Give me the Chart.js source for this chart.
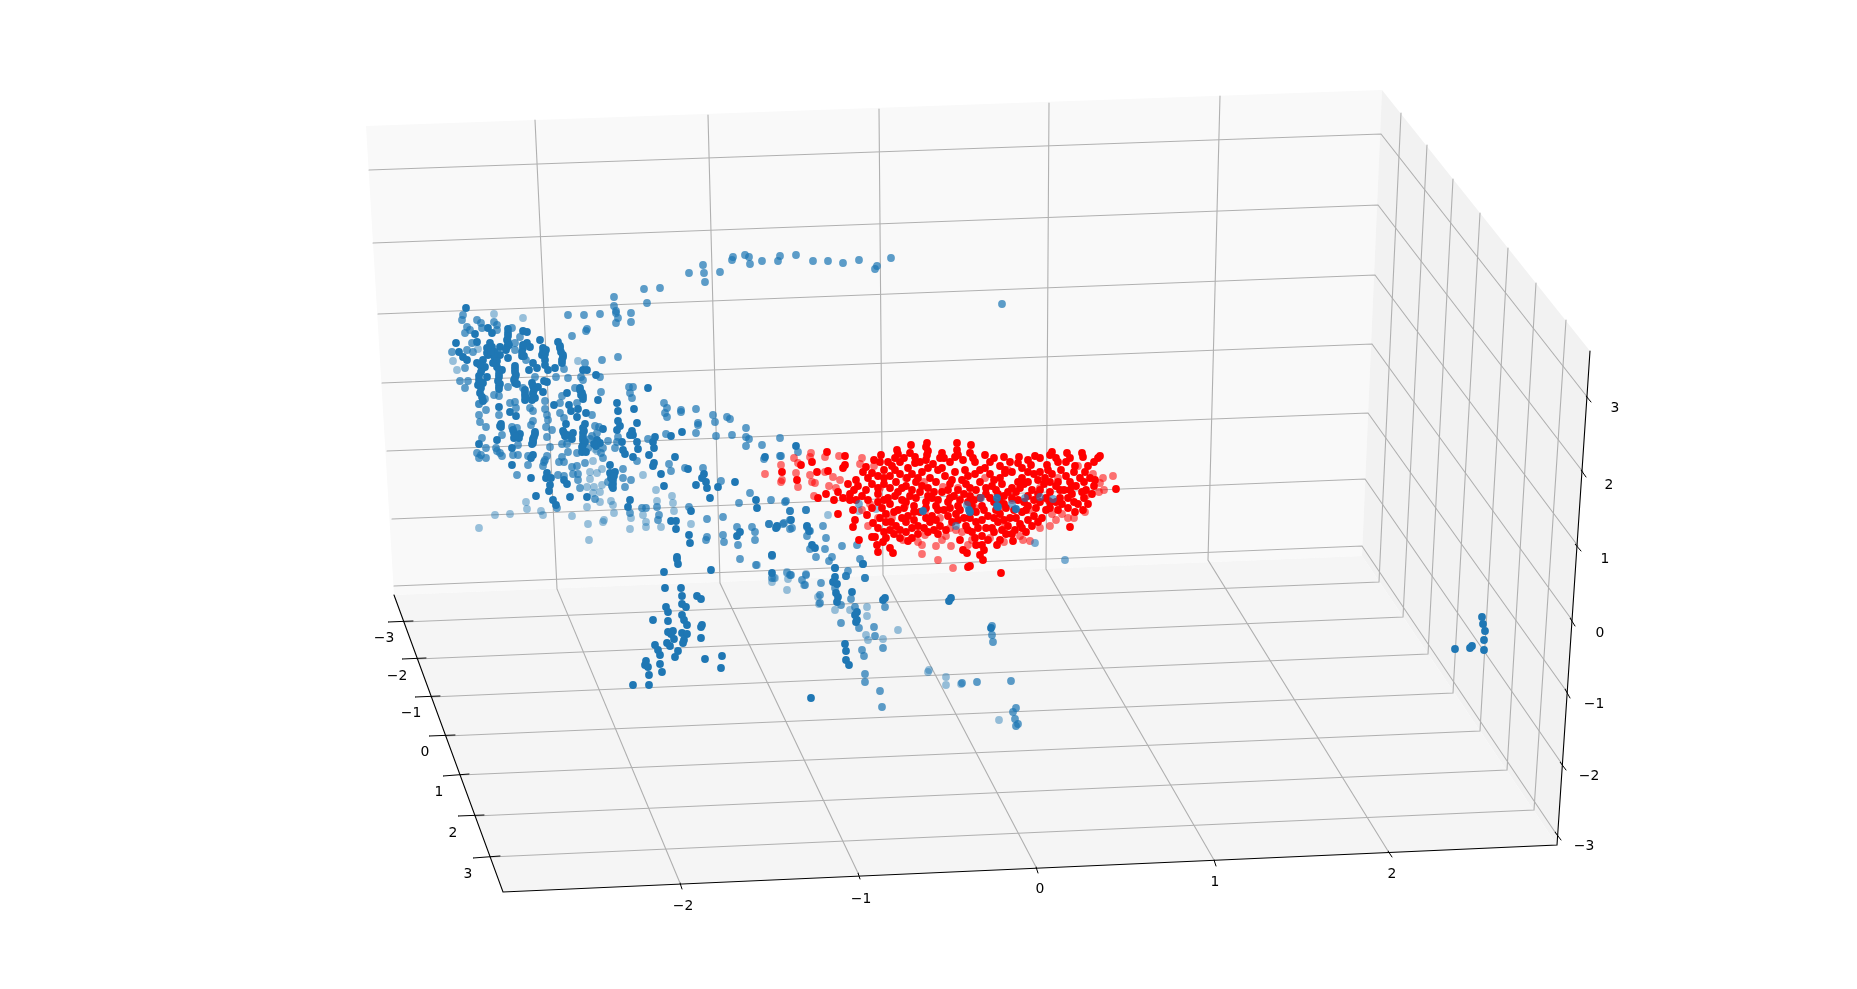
<!DOCTYPE html>
<html lang="en">
<head>
  <meta charset="UTF-8">
  <title>3D scatter</title>
  <script src="https://cdn.jsdelivr.net/npm/chart.js"></script>
  <style>
    html, body { margin: 0; padding: 0; background: #fff; }
    #box { width: 1857px; height: 989px; }
  </style>
</head>
<body>
  <div id="box"><canvas id="scatter3d"></canvas></div>

  <script>
    const backWall = [[366,126],[1382,90],[1362,556],[394,595]];
    const sideWall = [[1382,90],[1590,351],[1557,845],[1362,556]];
    const floorPane = [[394,595],[1362,556],[1557,845],[503,892]];

    // x grid: wall top, wall bottom, front edge
    const xGrid = [
      [[535,120],[557,589],[680,883]],
      [[708,115],[720,583],[858,873]],
      [[879,109],[883,575],[1036,867]],
      [[1049,103],[1046,569],[1214,860]],
      [[1220,96],[1208,560],[1388,851]]
    ];
    // y grid: left edge, wall corner, wall top
    const yGrid = [
      [[404,622],[1379,582],[1401,113]],
      [[417,659],[1403,617],[1427,145]],
      [[431,697],[1428,654],[1453,179]],
      [[446,736],[1453,693],[1480,213]],
      [[460,775],[1480,731],[1508,248]],
      [[475,816],[1507,770],[1536,283]],
      [[490,857],[1534,810],[1566,320]]
    ];
    // z grid: back wall left, corner, side wall right
    const zGrid = [
      [[369,170],[1381,134],[1588,398]],
      [[373,243],[1378,205],[1583,472]],
      [[378,314],[1375,275],[1578,546]],
      [[382,383],[1372,344],[1572,620]],
      [[387,451],[1368,413],[1567,692]],
      [[392,519],[1365,479],[1562,764]],
      [[394,586],[1362,546],[1557,835]]
    ];
    const axisEdges = [[[394,595],[503,892],[1557,845],[1590,351]]];

    const xTickMarks = [[[680,883],[682,889]],[[858,873],[860,879]],[[1036,867],[1038,873]],[[1214,860],[1216,866]],[[1388,851],[1392,857]]];
    const yTickMarks = [[[388,622],[413,621]],[[402,659],[426,658]],[[415,697],[440,696]],[[429,736],[455,735]],[[443,776],[469,774]],[[458,816],[484,815]],[[473,858],[500,856]]];
    const zTickMarks = [[[1586,396],[1591,402]],[[1581,470],[1586,477]],[[1575,544],[1581,551]],[[1570,618],[1575,626]],[[1565,689],[1570,698]],[[1560,762],[1566,770]],[[1555,832],[1561,840]]];

    const xTickLabels = ['\u22122','\u22121','0','1','2'];
    const xLabelAt = [[683,906],[861,899],[1040,889],[1215,882],[1392,874]];
    const yTickLabels = ['\u22123','\u22122','\u22121','0','1','2','3'];
    const yLabelAt = [[384,638],[397,676],[411,713],[425,752],[439,792],[453,833],[468,874]];
    const zTickLabels = ['3','2','1','0','\u22121','\u22122','\u22123'];
    const zLabelAt = [[1615,408],[1609,485],[1605,559],[1600,633],[1594,704],[1589,776],[1584,846]];

    const blueNear = [
      [466,308],[475,334],[488,328],[492,333],[508,329],[508,333],[523,331],[527,332],[558,342],[540,340],[477,342],[456,343],[490,343],[508,342],[527,343],
      [459,352],[487,348],[492,347],[500,347],[507,347],[523,348],[530,347],[543,348],[560,348],[463,357],[467,360],[477,363],[483,360],[488,355],[495,358],[500,355],[508,358],[522,356],[533,363],[542,355],[545,360],[563,357],[562,363],
      [482,369],[485,367],[497,367],[502,370],[515,369],[529,370],[537,368],[545,365],[548,370],[555,368],[583,370],[587,370],[596,375],[479,380],[487,377],[499,377],[515,378],[547,382],
      [478,385],[483,383],[499,386],[515,383],[532,383],[538,387],[544,381],[648,388],[580,388],[567,393],[582,393],[480,393],[482,397],[525,393],[533,393],[543,392],[525,400],[535,398],[583,399],[598,400],
      [483,401],[554,405],[569,405],[617,403],[499,407],[571,411],[578,409],[634,409],[618,411],[510,412],[586,413],[516,416],[577,417],[637,423],[618,421],[620,426],[501,424],[566,424],[585,424],[603,429],[617,430],[632,431],[682,432],[500,426],
      [514,433],[520,434],[535,434],[564,433],[567,435],[573,433],[583,433],[630,435],[633,435],[655,437],[671,436],[497,440],[514,438],[519,438],[533,439],[572,439],[583,440],[597,443],[622,442],[637,442],[653,442],[479,444],[533,443],[583,445],[600,443],[796,446],
      [512,448],[623,450],[638,449],[654,448],[533,455],[531,458],[582,452],[586,452],[625,454],[633,457],[649,455],[675,457],[765,457],[654,463],[512,465],[610,465],[653,466],[688,469],
      [531,478],[547,473],[546,478],[551,478],[610,473],[615,472],[661,474],[704,474],[564,480],[567,484],[550,485],[613,480],[702,478],[706,482],[735,482],[718,487],[696,485],[664,486],[613,488],[707,488],
      [549,491],[536,496],[570,497],[587,497],[710,498],[553,500],[630,500],[756,500],[556,505],[628,507],[691,511],[757,508],[671,521],[676,521],[676,529],[777,526],[776,528],[791,520],[807,526],[689,535],[737,536],[809,531],[690,543],[740,532],[812,545],[815,548],
      [677,557],[678,564],[677,559],[664,572],[711,570],[665,588],[681,588],[682,596],[697,596],[701,599],[682,604],[686,607],[666,607],[668,612],[653,620],[668,621],[682,615],[684,620],[687,625],[702,625],[701,627],[668,632],[673,631],[671,634],[674,639],[682,633],[687,634],[701,638],[684,640],[683,643],[655,645],[667,643],[670,646],[658,650],[660,655],[678,651],[675,657],[705,659],[722,656],[721,668],[646,661],[645,665],[648,667],[660,664],[662,672],[649,675],[633,685],[649,685],[811,698],
      [772,573],[835,568],[835,577],[863,564],[833,582],[837,584],[836,593],[838,597],[837,602],[852,592],[857,612],[855,615],[857,620],[856,622],[885,598],[883,600],[845,644],[846,651],[846,660],[849,665],[951,598],[949,601],[991,628],[772,555],
      [515,366],[515,372],[516,375],[514,380],[517,384],[499,370],[499,374],[498,381],[500,384],[499,389],[480,365],[481,372],[479,376],[480,382],[481,388],[495,352],[494,356],[497,361],[493,363],[488,350],[487,353],[491,352],[508,336],[507,340],[509,345],[506,350],[523,345],[522,352],[524,356],[545,354],[543,352],[546,350],[561,352],[563,355],[560,346],[562,360],[533,386],[534,390],[533,395],[532,400],[525,390],[525,396],[526,398],[580,390],[581,395],[583,396],[535,432],[534,437],[533,441],[532,444],[583,428],[584,431],[583,437],[585,442],[582,447],[501,427],[513,430],[515,436],[563,431],[565,436],[597,440],[596,446],[594,444],[613,484],[612,486],[611,478],[614,476],
      [1482,617],[1483,624],[1485,631],[1484,640],[1484,650],[1472,646],[1470,648],[1455,649]
    ];
    const blueMid = [
      [463,315],[462,320],[477,320],[481,323],[482,328],[497,325],[494,322],[497,330],[467,327],[470,330],[465,333],[512,328],[520,337],[472,343],[515,343],[452,352],[467,350],[473,352],[515,350],[526,360],[585,363],[602,360],[618,357],
      [465,368],[564,369],[535,377],[556,377],[568,378],[581,377],[600,377],[583,380],[460,381],[468,381],[465,388],[508,387],[523,388],[629,387],[633,387],[575,388],[601,392],[630,393],[485,399],[494,395],[499,396],[545,401],[562,396],[632,398],
      [479,404],[510,403],[515,402],[530,408],[560,403],[577,403],[664,403],[516,408],[533,411],[545,409],[667,408],[681,410],[696,409],[486,410],[560,413],[479,415],[499,415],[547,415],[564,418],[592,415],[665,413],[667,417],[681,412],[713,415],[727,417],[730,419],[715,422],[533,421],[480,422],[698,423],
      [531,425],[548,420],[595,426],[486,427],[512,427],[517,428],[546,427],[552,430],[599,427],[698,425],[746,428],[502,435],[592,436],[597,433],[618,437],[666,434],[696,433],[716,436],[732,435],[746,437],[780,438],[482,438],[547,437],[567,438],[590,439],[608,441],[617,442],[648,439],[749,439],[562,444],[567,444],[762,445],[746,446],
      [486,448],[496,448],[518,445],[550,447],[588,448],[603,448],[615,448],[477,453],[481,455],[497,451],[500,453],[513,455],[518,455],[528,456],[547,456],[562,457],[568,452],[577,453],[601,453],[780,456],[764,459],[798,452],[781,456],[479,458],[486,458],[502,456],[544,462],[545,460],[559,462],[564,462],[603,458],[637,461],[669,464],
      [528,465],[543,466],[572,467],[577,466],[585,463],[623,469],[685,468],[703,468],[517,475],[558,475],[564,476],[573,474],[578,474],[671,471],[578,480],[608,482],[623,478],[631,480],[721,481],[580,488],[625,487],[750,493],[595,499],[739,503],[771,500],[785,502],
      [557,508],[642,508],[646,508],[657,507],[689,507],[790,511],[806,510],[630,513],[659,515],[723,517],[658,520],[707,519],[737,527],[752,527],[755,532],[769,524],[783,524],[792,528],[807,536],[707,537],[723,535],[706,540],[724,542],[738,545],[755,540],[786,501],[790,511],[806,510],[769,524],[777,527],[784,523],[790,520],[790,529],[807,527],[810,531],[823,526],[826,538],[810,549],[825,549],[816,557],[842,546],[857,545],[832,557],[829,561],[835,568],[860,559],[863,564],[848,571],[846,576],[865,578],[790,575],
      [772,578],[791,575],[806,575],[802,580],[805,585],[821,583],[820,595],[820,603],[846,576],[865,578],[835,588],[841,605],[851,599],[855,607],[841,623],[859,628],[885,607],[874,627],[875,636],[883,648],[862,650],[864,656],[865,674],[865,682],[880,691],[882,707],[992,626],[992,635],[993,642],[962,683],[977,682],[1011,681],[1016,708],[1013,712],[1015,719],[1018,724],[1016,726],[740,559],[756,565],[772,556],
      [891,258],[877,266],[875,269],[859,260],[843,263],[828,261],[813,261],[796,255],[780,256],[778,261],[762,261],[750,264],[749,257],[745,255],[733,257],[732,260],[720,272],[703,265],[704,273],[705,282],[689,273],[660,288],[644,289],[614,297],[647,303],[614,306],[616,311],[616,313],[618,318],[616,323],[631,313],[631,322],[600,314],[584,315],[568,315],[587,329],[586,331],[572,336],
      [1002,304]
    ];
    const blueFar = [
      [494,314],[523,318],[478,349],[453,361],[578,361],[457,370],[479,404],[526,502],[527,509],[495,515],[510,514],[541,511],[543,515],[572,516],[614,513],[643,515],[479,528],[588,524],[604,520],[603,522],[646,522],[646,527],[630,529],[661,527],[691,524],[631,518],[589,540],[673,503],[674,511],[672,496],[657,501],[656,490],
      [595,449],[593,461],[597,451],[590,472],[602,469],[597,473],[590,479],[587,487],[594,487],[602,485],[593,493],[600,492],[600,502],[611,501],[613,505],[587,507],[643,475],[898,630],[867,607],[850,610],[835,610],[867,616],[866,635],[868,640],[883,639],[929,670],[928,672],[946,677],[946,685],[961,684],[999,720],
      [787,572],[774,578],[772,582],[788,579],[787,590],[757,565],[787,573],[775,578],[804,585],[818,597],[819,604],[772,555],[806,574],[828,515],[859,511],[876,509]
    ];

    const redNear = [
      [782,472],[801,465],[797,480],[812,462],[817,472],[827,452],[828,471],[845,456],[845,465],[843,468],[818,498],
      [881,455],[880,462],[897,450],[898,454],[895,458],[911,445],[910,453],[915,457],[927,443],[926,447],[928,451],[927,455],[942,453],[940,458],[957,443],[957,450],[955,457],[971,445],[970,453],[985,455],[990,462],[1004,457],[1019,457],[1035,456],[1052,452],[1050,455],[1067,453],[1082,453],[1083,457],[1100,456],[1098,458],[1116,489],
      [1001,573],[970,566],[968,567],[983,560],[980,555],[967,553],[963,550],[890,548],[893,553],[878,552],[877,545],[872,537],[859,540],[875,537],[908,541],[997,545],[1013,541],[1070,527],[1075,512],[1088,504],[1083,510],[838,514],[855,520],[853,527],[850,500],[853,510],[867,515],[873,523],
      [866,467],[872,473],[884,470],[892,466],[900,462],[908,468],[920,462],[933,464],[938,470],[950,462],[963,460],[975,462],[985,468],[1000,466],[1010,462],[1022,468],[1031,465],[1047,465],[1058,462],[1066,462],[1075,466],[1088,466],[1085,472],[1061,470],[1040,472],
      [856,480],[868,478],[878,476],[890,476],[900,474],[912,474],[922,472],[930,478],[945,476],[955,472],[965,470],[975,474],[990,474],[1000,478],[1012,472],[1022,478],[1034,474],[1045,478],[1052,474],[1066,476],[1074,472],[1080,478],[1090,478],[1070,482],
      [848,484],[858,486],[872,484],[884,484],[896,482],[906,486],[916,482],[928,488],[936,482],[950,484],[962,480],[970,488],[980,482],[992,486],[1002,484],[1012,488],[1024,484],[1032,490],[1044,484],[1056,486],[1064,490],[1076,486],[1086,490],[1094,486],
      [826,494],[838,492],[850,494],[862,496],[878,494],[888,498],[898,492],[910,496],[920,492],[932,498],[942,492],[954,496],[964,494],[974,500],[986,494],[996,490],[1004,496],[1016,492],[1028,496],[1038,494],[1050,492],[1060,498],[1072,494],[1084,498],[1092,494],
      [878,502],[890,504],[902,500],[914,506],[926,502],[936,506],[948,502],[958,506],[968,502],[982,506],[994,502],[1006,508],[1018,500],[1028,506],[1040,502],[1050,508],[1062,504],[1074,502],
      [886,514],[898,510],[908,516],[920,512],[932,516],[944,510],[956,514],[964,518],[976,512],[988,516],[1000,514],[1010,518],[1022,512],[1034,516],[1046,510],[1042,518],
      [886,522],[896,526],[906,522],[918,526],[930,522],[940,526],[952,522],[966,526],[976,522],[986,528],[998,522],[1008,526],[1020,524],[1032,526],
      [884,532],[894,534],[906,532],[918,534],[928,532],[938,534],[972,532],[982,536],[994,532],[1006,534],[1026,532],[1015,530],
      [883,542],[960,540],[982,545],
      [874,460],[888,462],[904,458],[915,463],[926,460],[944,458],[958,455],[973,458],[994,458],[1005,470],[1018,463],[1028,460],[1040,458],[1056,458],[1070,458],[1094,462],
      [863,472],[884,478],[895,470],[907,478],[918,478],[928,468],[942,468],[952,480],[968,476],[980,470],[994,480],[1005,473],[1018,482],[1028,472],[1038,480],[1048,470],[1058,482],[1072,486],[1084,482],[1095,480],
      [854,490],[866,490],[878,488],[890,488],[902,488],[912,490],[922,486],[934,492],[948,490],[958,490],[966,484],[976,490],[986,488],[998,494],[1008,492],[1020,488],[1028,482],[1040,490],[1050,482],[1060,490],[1070,490],[1082,492],
      [834,500],[843,498],[856,500],[868,500],[884,500],[895,496],[906,502],[916,498],[928,496],[938,500],[950,498],[960,500],[970,496],[980,498],[990,498],[1000,502],[1012,498],[1024,502],[1034,500],[1046,498],[1056,502],[1068,498],[1078,504],
      [872,508],[882,508],[894,512],[904,508],[914,512],[926,508],[938,510],[950,508],[960,510],[972,506],[984,510],[996,510],[1004,504],[1014,510],[1026,510],[1036,508],[1050,502],[1058,510],[1068,508],
      [880,518],[891,522],[902,518],[914,520],[926,518],[936,520],[948,516],[958,520],[970,518],[982,520],[994,518],[1004,520],[1016,518],[1028,520],[1038,522],
      [878,528],[890,530],[900,530],[912,528],[924,528],[934,530],[946,530],[968,530],[978,528],[992,528],[1002,530],[1012,534],[1022,528],
      [886,538],[900,538],[912,538],[975,538],[988,540],[1000,540],[976,545],[984,550]
    ];
    const redFar = [
      [765,474],[781,465],[781,482],[782,480],[794,458],[798,463],[796,473],[798,487],[811,453],[810,457],[810,475],[812,482],[815,483],[825,457],[825,472],[829,486],[814,496],[839,456],[860,464],[833,477],[836,488],
      [1113,476],[1093,474],[1103,478],[1100,483],[1099,492],[1085,512],[1068,518],[1056,520],[1050,526],
      [953,568],[938,560],[922,554],[951,546],[936,546],[922,545],[946,536],[1023,540],[1030,541],[968,545],[972,540],[956,530],[942,540],[1004,542],[1020,536],[870,504],[862,510],[868,526],[878,518],[892,518],[903,540],[918,542],[925,535],[950,528],[962,532],[1040,528],[1052,514],[1062,514],[1074,518],[1086,496],[1104,490],
      [880,488],[906,478],[924,482],[943,487],[958,488],[985,478],[1008,470],[1040,488],[1058,478],[1078,466],[840,480],[848,498],[874,466],[862,458],[905,506],[940,518],[975,508],[1000,508],[1030,510],[1012,500],[970,512],[925,512],[990,538],[1005,526],[1048,500]
    ];
    // blue marks that sit over the red cloud
    const blueOverRed = [[923,511],[969,510],[970,512],[997,498],[997,506],[998,507],[1016,509]];
    const blueOverRedPale = [[1012,504],[981,498],[967,505],[1025,498],[1040,497],[859,504],[1053,499],[956,526],[1035,543],[1065,560]];

    const segmentSets = (sets, color, width) => sets.map(points => ({
      type: 'line',
      data: points,
      showLine: true,
      fill: false,
      borderColor: color,
      borderWidth: width,
      borderCapStyle: 'round',
      tension: 0,
      pointRadius: 0
    }));

    const dots = (points, color) => ({
      type: 'scatter',
      data: points,
      backgroundColor: color,
      borderWidth: 0,
      pointRadius: 3.9,
      pointHoverRadius: 3.9
    });

    // panes sit under the grid, tick labels go on top
    const frame3d = {
      id: 'frame3d',
      beforeDatasetsDraw(chart) {
        const { ctx, scales: { x, y } } = chart;
        [[backWall, '#f9f9f9'], [sideWall, '#f2f2f2'], [floorPane, '#f5f5f5']].forEach(([poly, color]) => {
          ctx.beginPath();
          poly.forEach(([a, b], i) => {
            if (i === 0) ctx.moveTo(x.getPixelForValue(a), y.getPixelForValue(b));
            else ctx.lineTo(x.getPixelForValue(a), y.getPixelForValue(b));
          });
          ctx.closePath();
          ctx.fillStyle = color;
          ctx.fill();
        });
      },
      afterDraw(chart) {
        const { ctx, scales: { x, y } } = chart;
        ctx.save();
        ctx.font = '13.9px "DejaVu Sans"';
        ctx.fillStyle = '#000';
        ctx.textAlign = 'center';
        ctx.textBaseline = 'middle';
        [[xTickLabels, xLabelAt], [yTickLabels, yLabelAt], [zTickLabels, zLabelAt]].forEach(([labels, at]) => {
          labels.forEach((label, i) => {
            ctx.fillText(label, x.getPixelForValue(at[i][0]), y.getPixelForValue(at[i][1]));
          });
        });
        ctx.restore();
      }
    };

    // first dataset is painted last
    const datasets = [
      dots(blueOverRed, 'rgba(31,119,180,0.95)'),
      dots(blueOverRedPale, 'rgba(31,119,180,0.6)'),
      dots(redNear, '#ff0000'),
      dots(redFar, 'rgba(255,0,0,0.55)'),
      dots(blueNear, '#1f77b4'),
      dots(blueMid, 'rgba(31,119,180,0.72)'),
      dots(blueFar, 'rgba(31,119,180,0.45)'),
      ...segmentSets(axisEdges, '#000', 1.1),
      ...segmentSets(xTickMarks, '#000', 1),
      ...segmentSets(yTickMarks, '#000', 1),
      ...segmentSets(zTickMarks, '#000', 1),
      ...segmentSets(xGrid, '#b0b0b0', 1.1),
      ...segmentSets(yGrid, '#b0b0b0', 1.1),
      ...segmentSets(zGrid, '#b0b0b0', 1.1)
    ];

    new Chart(document.getElementById('scatter3d'), {
      type: 'scatter',
      data: { datasets },
      plugins: [frame3d],
      options: {
        responsive: true,
        maintainAspectRatio: false,
        animation: false,
        layout: { padding: 0, autoPadding: false },
        plugins: { legend: { display: false }, tooltip: { enabled: false } },
        scales: {
          x: { type: 'linear', min: 0, max: 1857, display: false },
          y: { type: 'linear', min: 0, max: 989, reverse: true, display: false }
        }
      }
    });
  </script>
</body>
</html>
